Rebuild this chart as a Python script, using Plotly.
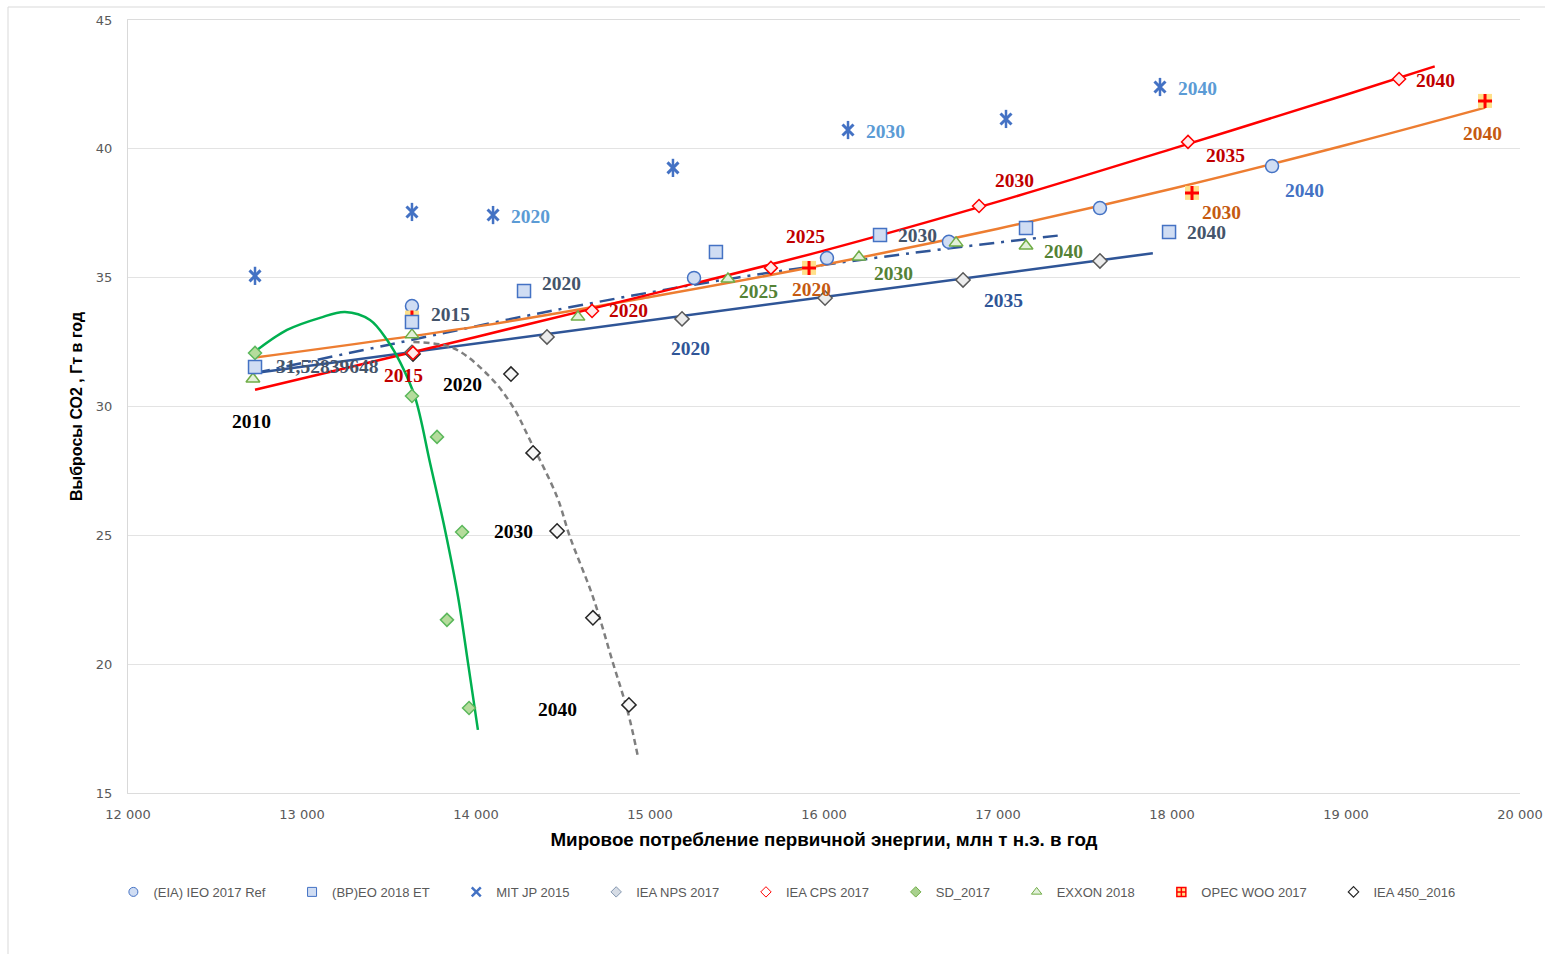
import plotly.graph_objects as go

# ---- scenario points: world primary energy (Mtoe/yr) vs CO2 emissions (Gt/yr) ----
eia_x = [13632, 15253, 16017, 16718, 17586, 18575]
eia_y = [33.9, 34.99, 35.76, 36.39, 37.70, 39.33]

bp_x = [12730, 13632, 14276, 15379, 16322, 17161, 17983]
bp_y = [31.52839648, 33.28, 34.48, 36.0, 36.66, 36.93, 36.77]

mit_x = [12730, 13632, 14098, 15132, 16138, 17046, 17931]
mit_y = [35.07, 37.55, 37.43, 39.26, 40.73, 41.16, 42.40]

nps_x = [13632, 14408, 15184, 16006, 16799, 17586]
nps_y = [32.1, 32.70, 33.4, 34.21, 34.91, 35.65]

cps_x = [13638, 14667, 15695, 16891, 18092, 19305]
cps_y = [32.08, 33.71, 35.38, 37.78, 40.27, 42.71]

sd_x = [12730, 13632, 13776, 13920, 13833, 13960]
sd_y = [32.08, 30.41, 28.82, 25.13, 21.72, 18.30]

exxon_x = [12718, 13632, 14586, 15448, 16201, 16759, 17161]
exxon_y = [31.07, 32.78, 33.47, 34.95, 35.80, 36.35, 36.23]

opec_x = [13632, 15914, 18115, 19799]
opec_y = [33.45, 35.38, 38.29, 41.86]

iea450_x = [13638, 14201, 14328, 14466, 14672, 14879]
iea450_y = [32.04, 31.26, 28.2, 25.17, 21.8, 18.42]

# ---- trend lines ----
nps_trend_x = [12730, 17890]
nps_trend_y = [31.3, 35.95]

exxon_trend_x = [12730, 13500, 14500, 15500, 16500, 17380]
exxon_trend_y = [31.3, 32.4, 33.8, 35.0, 35.95, 36.66]

cps_trend_x = [12730, 14000, 15000, 16000, 17000, 18000, 19000, 19510]
cps_trend_y = [30.65, 32.7, 34.35, 36.05, 37.95, 40.0, 42.1, 43.2]

opec_trend_x = [12730, 14000, 15000, 16000, 17000, 18000, 19000, 19800]
opec_trend_y = [31.9, 33.1, 34.25, 35.5, 36.9, 38.45, 40.15, 41.6]

sd_trend_x = [12720, 12914, 13103, 13247, 13391, 13489, 13563, 13649, 13736, 13822, 13897, 13954, 14011]
sd_trend_y = [32.08, 32.97, 33.44, 33.67, 33.36, 32.58, 31.73, 30.37, 27.81, 25.21, 22.61, 20.05, 17.45]

iea450_trend_x = [13640, 13868, 14080, 14213, 14310, 14466, 14540, 14672, 14787, 14874, 14931]
iea450_trend_y = [32.5, 32.27, 31.15, 29.98, 28.7, 26.49, 24.94, 22.61, 20.05, 18.11, 16.40]

# ---- year labels (text, x, y) ----
bp_labels = [(f"{bp_y[0]}".replace(".", ","), 13149, 31.57), ("2015", 13851, 33.59),
             ("2020", 14494, 34.79), ("2030", 16540, 36.62), ("2040", 18201, 36.77)]
mit_labels = [("2020", 14316, 37.39), ("2030", 16351, 40.69), ("2040", 18149, 42.36)]
cps_labels = [("2015", 13586, 31.19), ("2020", 14879, 33.71), ("2025", 15891, 36.58),
              ("2030", 17092, 38.79), ("2035", 18305, 39.76), ("2040", 19517, 42.67)]
exxon_labels = [("2025", 15621, 34.48), ("2030", 16397, 35.18), ("2040", 17379, 36.0)]
opec_labels = [("2020", 15931, 34.56), ("2030", 18287, 37.51), ("2040", 19787, 40.61)]
eia_labels = [("2040", 18764, 38.40)]
nps_labels = [("2020", 15230, 32.27), ("2035", 17029, 34.13)]
iea450_labels = [("2010", 12707, 29.40), ("2020", 13925, 30.84), ("2030", 14218, 25.13),
                 ("2040", 14471, 18.26)]

x_ticks = [12000, 13000, 14000, 15000, 16000, 17000, 18000, 19000, 20000]
x_tick_text = ["12 000", "13 000", "14 000", "15 000", "16 000", "17 000", "18 000", "19 000", "20 000"]
y_ticks = [15, 20, 25, 30, 35, 40, 45]

series_names = ["(EIA) IEO 2017 Ref", "(BP)EO 2018 ET", "MIT JP 2015", "IEA NPS 2017",
                "IEA CPS 2017", "SD_2017", "EXXON 2018", "OPEC WOO 2017", "IEA 450_2016"]

fig = go.Figure()


def line(x, y, color, dash="solid", shape="linear"):
    fig.add_trace(go.Scatter(x=x, y=y, mode="lines", showlegend=False, hoverinfo="skip",
                             line=dict(color=color, width=2.5, dash=dash, shape=shape,
                                       smoothing=1.0)))


def points(x, y, symbol, size, fill, edge, width=1.5):
    fig.add_trace(go.Scatter(x=x, y=y, mode="markers", showlegend=False,
                             marker=dict(symbol=symbol, size=size, color=fill,
                                         line=dict(color=edge, width=width))))


# trend lines
line(nps_trend_x, nps_trend_y, "#2f5597")
line(exxon_trend_x, exxon_trend_y, "#2f5597", dash="15px,7px,3px,7px", shape="spline")
line(opec_trend_x, opec_trend_y, "#ed7d31", shape="spline")
line(cps_trend_x, cps_trend_y, "#ff0000", shape="spline")
line(sd_trend_x, sd_trend_y, "#00b050", shape="spline")
line(iea450_trend_x, iea450_trend_y, "#7f7f7f", dash="6px,4px", shape="spline")

# scenario markers
points(iea450_x, iea450_y, "diamond", 11, "#f7f7f7", "#262626")
points(nps_x, nps_y, "diamond", 11, "#ececec", "#595959")
points(sd_x, sd_y, "diamond", 10, "#b5dc9c", "#5cb85c")
points(cps_x, cps_y, "diamond", 10, "#ffeaea", "#ff0000")
points(eia_x, eia_y, "circle", 13, "#d0ddf3", "#4472c4")
points(opec_x, opec_y, "square", 14, "#ffe08a", "#ffe08a", 0)
points(opec_x, opec_y, "cross-thin-open", 10, "#ff0000", "#ff0000", 3)
points(exxon_x, exxon_y, "triangle-up", 12, "#e2f0d9", "#70ad47")
points(bp_x, bp_y, "square", 13, "#d0ddf3", "#4472c4")
points(mit_x, mit_y, "x-thin-open", 11, "#4472c4", "#4472c4", 3)
points(mit_x, mit_y, "line-ns-open", 13, "#4472c4", "#4472c4", 2.5)

# legend entries (trailing no-break spaces widen the gap between entries)
legend_markers = [
    ("circle", "#d0ddf3", "#4472c4", 1),
    ("square", "#d0ddf3", "#4472c4", 1),
    ("x-thin-open", "#4472c4", "#4472c4", 2.5),
    ("diamond", "#d6dce5", "#8497b0", 1),
    ("diamond", "#ffffff", "#ff0000", 1),
    ("diamond", "#a9d18e", "#70ad47", 1),
    ("triangle-up", "#e2f0d9", "#70ad47", 1),
    ("square-cross", "#ffe08a", "#ff0000", 1.5),
    ("diamond", "#ffffff", "#262626", 1.2),
]
pad = "\u00a0" * 6
for name, (sym, fill, edge, w) in zip(series_names, legend_markers):
    fig.add_trace(go.Scatter(x=[None], y=[None], mode="markers", name=name + pad,
                             marker=dict(symbol=sym, size=8 if "diamond" in sym else 9,
                                         color=fill, line=dict(color=edge, width=w))))

annotations = []
label_font = "Liberation Serif, Times New Roman, serif"
for labels, color in [(bp_labels, "#44546a"), (mit_labels, "#5b9bd5"), (cps_labels, "#c00000"),
                      (exxon_labels, "#548235"), (opec_labels, "#c55a11"), (eia_labels, "#4472c4"),
                      (nps_labels, "#2f5597"), (iea450_labels, "#000000")]:
    for text, x, y in labels:
        annotations.append(dict(x=x, y=y, xref="x", yref="y", text=f"<b>{text}</b>",
                                showarrow=False, xanchor="center", yanchor="middle",
                                font=dict(family=label_font, size=19.5, color=color)))

fig.update_layout(
    width=1545, height=954,
    margin=dict(l=128, r=25, t=20, b=161, autoexpand=False),
    paper_bgcolor="white", plot_bgcolor="white",
    annotations=annotations,
    showlegend=True,
    legend=dict(orientation="h", x=-0.0105, xanchor="left", y=-0.128, yanchor="middle",
                font=dict(family="Liberation Sans, Arial, sans-serif", size=13, color="#595959"),
                itemwidth=30, tracegroupgap=0, bgcolor="rgba(0,0,0,0)"),
    xaxis=dict(range=[12000, 20000], tickvals=x_ticks, ticktext=x_tick_text, automargin=False,
               showgrid=False, zeroline=False, showline=True, mirror=True,
               linecolor="#dcdcdc", linewidth=1,
               ticks="", ticklabelstandoff=9, ticklabeloverflow="allow",
               tickfont=dict(family="DejaVu Sans, Verdana, sans-serif", size=13, color="#595959"),
               title=dict(text="<b>Мировое потребление первичной энергии, млн т н.э. в год</b>",
                          font=dict(family="Liberation Sans, Arial, sans-serif", size=18.8, color="#000000"),
                          standoff=12)),
    yaxis=dict(range=[15, 45], tickvals=y_ticks, showgrid=True, gridcolor="#e3e3e3", gridwidth=1,
               automargin=False, zeroline=False, showline=True, linecolor="#d9d9d9", linewidth=1,
               ticks="", ticklabelstandoff=12,
               tickfont=dict(family="DejaVu Sans, Verdana, sans-serif", size=13, color="#595959"),
               title=dict(text="<b>Выбросы СО2 , Гт в год</b>",
                          font=dict(family="Liberation Sans Narrow, Liberation Sans, Arial, sans-serif",
                                    size=16, color="#000000"),
                          standoff=9)),
    shapes=[dict(type="rect", xref="paper", yref="paper", x0=-0.0862, x1=1.2, y0=-0.5, y1=1.0168,
                 line=dict(color="#d9d9d9", width=1), fillcolor="rgba(0,0,0,0)", layer="below")],
)

fig.write_html("out.html")
